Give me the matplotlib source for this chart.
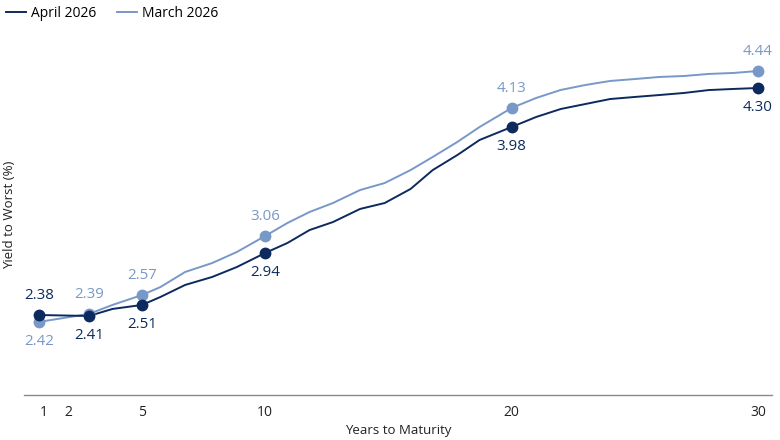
import matplotlib
matplotlib.use("Agg")
import matplotlib.pyplot as plt

plt.rcParams["font.family"] = ["Open Sans", "DejaVu Sans"]

DARK = "#0c2a5e"
LIGHT = "#7898c8"

# years to maturity
years = [0.82, 2.85, 3.8, 5, 5.75, 6.75, 7.85, 8.85, 10, 10.9, 11.8, 12.75,
         13.85, 14.85, 15.9, 16.8, 17.8, 18.7, 20, 21, 22, 23, 24, 25, 26,
         27, 28, 29, 30]

april = [2.427, 2.419, 2.477, 2.51, 2.576, 2.675, 2.741, 2.823, 2.939, 3.021,
         3.128, 3.194, 3.302, 3.351, 3.467, 3.623, 3.747, 3.871, 3.978, 4.061,
         4.127, 4.168, 4.209, 4.226, 4.242, 4.259, 4.283, 4.292, 4.30]

march = [2.37, 2.436, 2.51, 2.592, 2.658, 2.782, 2.856, 2.947, 3.079, 3.186,
         3.277, 3.351, 3.458, 3.516, 3.623, 3.731, 3.855, 3.978, 4.135, 4.218,
         4.284, 4.325, 4.358, 4.374, 4.391, 4.399, 4.416, 4.424, 4.44]

# points that get a dot and a value label
marked = [0, 1, 3, 8, 18, 28]
april_labels = ["2.38", "2.41", "2.51", "2.94", "3.98", "4.30"]
march_labels = ["2.42", "2.39", "2.57", "3.06", "4.13", "4.44"]
april_above = [True, False, False, False, False, False]
march_above = [False, True, True, True, True, True]

xticks = [1, 2, 5, 10, 20, 30]

fig = plt.figure(figsize=(7.8, 4.4), dpi=100)
ax = fig.add_axes([24 / 780, 45 / 440, 748 / 780, 365 / 440])

ax.plot(years, march, color=LIGHT, lw=1.4, label="March 2026", zorder=2)
ax.plot(years, april, color=DARK, lw=1.4, label="April 2026", zorder=3)
ax.plot([years[i] for i in marked], [march[i] for i in marked], "o",
        color=LIGHT, ms=7.5, zorder=4)
ax.plot([years[i] for i in marked], [april[i] for i in marked], "o",
        color=DARK, ms=7.5, zorder=5)

for k, i in enumerate(marked):
    off = 14 if march_above[k] else -14
    ax.annotate(march_labels[k], (years[i], march[i]), xytext=(0, off),
                textcoords="offset points", ha="center", va="center",
                color=LIGHT, fontsize=10.8)
    off = 14 if april_above[k] else -14
    ax.annotate(april_labels[k], (years[i], april[i]), xytext=(0, off),
                textcoords="offset points", ha="center", va="center",
                color=DARK, fontsize=10.8)

ax.set_xlim(0.21, 30.57)
ax.set_ylim(1.767, 4.7785)
ax.set_xticks(xticks)
ax.set_xticklabels([str(t) for t in xticks])
ax.tick_params(axis="x", length=0, pad=7, labelsize=10, colors="#222222")
ax.set_yticks([])
for s in ["top", "right", "left"]:
    ax.spines[s].set_visible(False)
ax.spines["bottom"].set_color("#8a8a8a")
ax.spines["bottom"].set_linewidth(1.0)
ax.set_xlabel("Years to Maturity", fontsize=9.5, color="#222222", labelpad=3)

fig.text(10 / 780, 1 - 215 / 440, "Yield to Worst (%)", rotation=90,
         ha="center", va="center", fontsize=9.5, color="#222222")

handles, labels = ax.get_legend_handles_labels()
fig.legend(handles[::-1], labels[::-1], loc="upper left",
           bbox_to_anchor=(-0.008, 1.015), ncol=2, frameon=False,
           fontsize=10, handlelength=1.4, handletextpad=0.4,
           columnspacing=1.5)

fig.savefig("out.png", dpi=100)
